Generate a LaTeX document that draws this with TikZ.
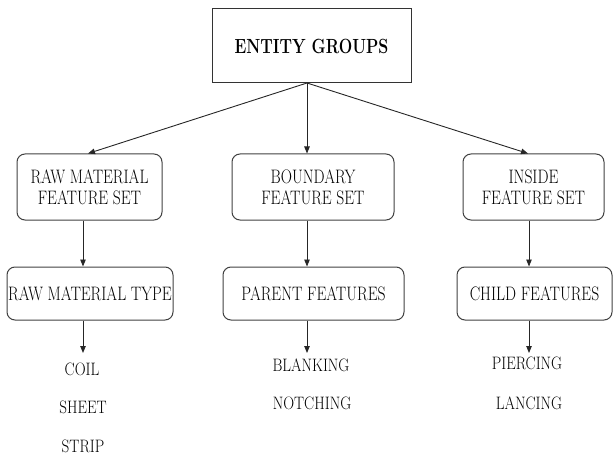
\documentclass[tikz,border=0pt]{standalone}
\usepackage{graphicx}
\usetikzlibrary{arrows.meta}
\newcommand\sq[1]{\scalebox{0.8}[1]{#1}}
\newcommand\leafq[1]{\scalebox{0.84}[1]{#1}}
\newcommand\tq[1]{\scalebox{0.78}[1]{#1}}
\begin{document}
\begin{tikzpicture}[x=1pt,y=-1pt,
  titlebox/.style={draw=black!80,line width=1pt,inner sep=0pt,font=\bfseries\fontsize{20.5}{24}\selectfont},
  featbox/.style={draw=black!75,line width=1pt,rounded corners=8pt,inner sep=0pt,align=center,font=\fontsize{19.5}{21}\selectfont},
  leaf/.style={inner sep=0pt,font=\fontsize{18}{20}\selectfont},
  arr/.style={draw=black!85,line width=0.9pt,-{Triangle[length=7pt,width=5.5pt]}}]
\useasboundingbox (0,0) rectangle (615,457);
% top
\node[titlebox,minimum width=199pt,minimum height=74pt] (top) at (311.5,46) {\tq{ENTITY GROUPS}};
\coordinate (o) at (307,83);
% row 1
\node[featbox,minimum width=145pt,minimum height=66pt] (b1) at (89.5,187) {\sq{RAW MATERIAL}\\\sq{FEATURE SET}};
\node[featbox,minimum width=162pt,minimum height=66pt] (b2) at (313,187) {\sq{BOUNDARY}\\\sq{FEATURE SET}};
\node[featbox,minimum width=141pt,minimum height=66pt] (b3) at (533.5,187) {\sq{INSIDE}\\\sq{FEATURE SET}};
% row 2
\node[featbox,minimum width=166pt,minimum height=53pt] (c1) at (90,293.5) {\sq{RAW MATERIAL TYPE}};
\node[featbox,minimum width=181pt,minimum height=53pt] (c2) at (313.5,293.5) {\sq{PARENT FEATURES}};
\node[featbox,minimum width=155pt,minimum height=53pt] (c3) at (534.5,293.5) {\sq{CHILD FEATURES}};
% leaves
\node[leaf] (l1) at (82,369) {\leafq{COIL}};
\node[leaf] (l2) at (83,407) {\leafq{SHEET}};
\node[leaf] (l3) at (83,446) {\leafq{STRIP}};
\node[leaf] (m1) at (311,365) {\leafq{BLANKING}};
\node[leaf] (m2) at (312,403) {\leafq{NOTCHING}};
\node[leaf] (r1) at (527,363) {\leafq{PIERCING}};
\node[leaf] (r2) at (529,403) {\leafq{LANCING}};
\coordinate (e1) at (83,353);
\coordinate (e2) at (307,353);
\coordinate (e3) at (529,353);
% connectors
\draw[arr] (o) -- (b1.north -| 88,0);
\draw[arr] (o) -- (b2.north -| 307,0);
\draw[arr] (o) -- (b3.north -| 528,0);
\draw[arr] (b1.south -| 83,0) -- (c1.north -| 83,0);
\draw[arr] (b2.south -| 307,0) -- (c2.north -| 307,0);
\draw[arr] (b3.south -| 529,0) -- (c3.north -| 529,0);
\draw[arr] (c1.south -| 83,0) -- (e1);
\draw[arr] (c2.south -| 307,0) -- (e2);
\draw[arr] (c3.south -| 529,0) -- (e3);
\end{tikzpicture}
\end{document}
